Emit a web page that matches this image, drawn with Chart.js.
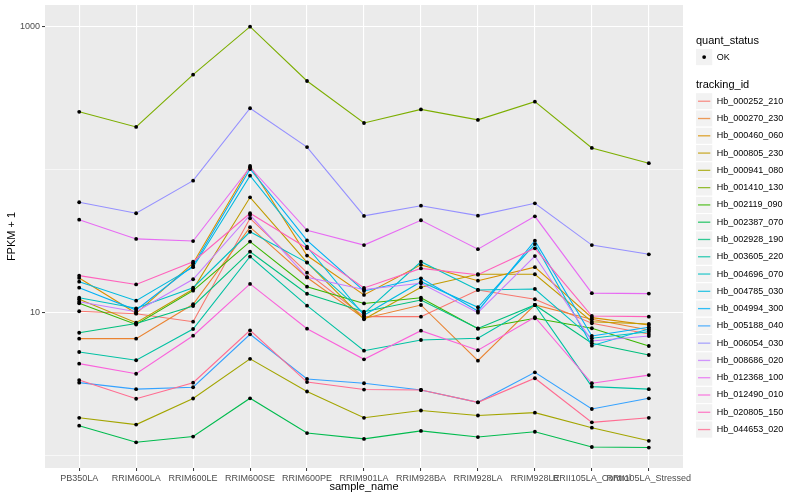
<!DOCTYPE html>
<html>
<head>
<meta charset="utf-8">
<script src="https://cdn.jsdelivr.net/npm/chart.js@4.4.1/dist/chart.umd.min.js"></script>
<style>
  html, body { margin: 0; padding: 0; background: #ffffff; }
  #wrap { width: 800px; height: 500px; }
</style>
</head>
<body>
<div id="wrap"><canvas id="c" width="800" height="500"></canvas></div>
<script>
// ---- Data ----
const categories = ['PB350LA','RRIM600LA','RRIM600LE','RRIM600SE','RRIM600PE','RRIM901LA','RRIM928BA','RRIM928LA','RRIM928LE','RRII105LA_Control','RRII105LA_Stressed'];

const trackingIds = ['Hb_000252_210','Hb_000270_230','Hb_000460_060','Hb_000805_230','Hb_000941_080','Hb_001410_130','Hb_002119_090','Hb_002387_070','Hb_002928_190','Hb_003605_220','Hb_004696_070','Hb_004785_030','Hb_004994_300','Hb_005188_040','Hb_006054_030','Hb_008686_020','Hb_012368_100','Hb_012490_010','Hb_020805_150','Hb_044653_020'];

const seriesColors = ['#F8766D','#EA8331','#D89000','#C09B00','#A3A500','#7CAE00','#39B600','#00BB4E','#00BF7D','#00C1A3','#00BFC4','#00BAE0','#00B0F6','#35A2FF','#9590FF','#C77CFF','#E76BF3','#FA62DB','#FF62BC','#FF6C91'];

// FPKM + 1 per sample (in category order)
const hb000252_210 = [10.23, 9.84, 8.65, 45.7, 19.05, 9.38, 9.38, 14.42, 12.41, 8.43, 7.10];
const hb000270_230 = [6.58, 6.58, 11.45, 39.6, 17.63, 9.11, 11.32, 4.62, 11.32, 8.99, 7.57];
const hb000460_060 = [17.49, 9.90, 22.2, 106.1, 25.1, 13.30, 21.6, 16.74, 20.8, 9.23, 8.20];
const hb000805_230 = [12.41, 8.51, 14.58, 64.1, 22.5, 8.99, 15.06, 18.56, 18.56, 8.65, 8.34];
const hb000941_080 = [1.84, 1.65, 2.51, 4.76, 2.81, 1.84, 2.07, 1.91, 2.00, 1.57, 1.27];
const hb001410_130 = [254, 199, 462, 1000, 417, 212, 264, 223, 299, 142, 111];
const hb002119_090 = [11.63, 8.27, 14.26, 31.4, 15.20, 11.60, 12.73, 7.73, 9.14, 7.78, 5.85];
const hb002387_070 = [1.62, 1.24, 1.36, 2.52, 1.44, 1.31, 1.49, 1.35, 1.47, 1.15, 1.14];
const hb002928_190 = [7.24, 8.40, 11.14, 26.7, 13.56, 10.16, 12.27, 7.75, 11.32, 6.11, 5.06];
const hb003605_220 = [5.31, 4.65, 7.69, 24.7, 11.19, 5.42, 6.44, 6.62, 11.32, 3.04, 2.92];
const hb004696_070 = [12.73, 10.73, 14.96, 36.8, 22.4, 9.90, 22.7, 14.42, 14.65, 6.62, 7.36];
const hb004785_030 = [16.47, 12.13, 20.8, 90.8, 28.9, 9.59, 16.47, 10.91, 30.2, 5.88, 7.69];
const hb004994_300 = [14.96, 10.44, 21.3, 101.1, 32.0, 14.18, 17.40, 10.28, 31.9, 6.87, 7.90];
const hb005188_040 = [3.24, 2.92, 3.01, 7.06, 3.44, 3.21, 2.88, 2.36, 3.83, 2.12, 2.52];
const hb006054_030 = [59.2, 49.6, 83.8, 269, 144, 47.5, 56.0, 47.7, 58.2, 29.7, 25.6];
const hb008686_020 = [11.94, 10.16, 17.13, 48.2, 17.69, 14.54, 16.05, 10.0, 24.9, 6.34, 6.87];
const hb012368_100 = [44.7, 32.8, 31.7, 104, 37.7, 29.7, 44.3, 27.8, 47.2, 13.7, 13.6];
const hb012490_010 = [4.40, 3.74, 6.90, 15.9, 7.73, 4.72, 7.48, 5.46, 9.29, 3.21, 3.66];
const hb020805_150 = [18.15, 15.75, 22.7, 49.6, 28.2, 14.88, 20.4, 18.44, 28.2, 9.48, 9.38];
const hb044653_020 = [3.38, 2.50, 3.24, 7.53, 3.27, 2.90, 2.88, 2.36, 3.48, 1.71, 1.84];

const seriesValues = [hb000252_210, hb000270_230, hb000460_060, hb000805_230, hb000941_080, hb001410_130, hb002119_090, hb002387_070, hb002928_190, hb003605_220, hb004696_070, hb004785_030, hb004994_300, hb005188_040, hb006054_030, hb008686_020, hb012368_100, hb012490_010, hb020805_150, hb044653_020];

const yMajorTicks = [10, 1000];
const yAllBreaks = [1, 10, 100, 1000];

// ---- Build datasets ----
const toPoints = vals => categories.map((c, i) => ({ x: i, y: vals[i] }));
const datasets = [];
seriesValues.forEach((vals, i) => {
  datasets.push({
    label: trackingIds[i],
    data: toPoints(vals),
    borderColor: seriesColors[i],
    backgroundColor: seriesColors[i],
    borderWidth: 1.1,
    pointRadius: 0,
    tension: 0,
    fill: false,
    order: 100 - i
  });
});
seriesValues.forEach((vals, i) => {
  datasets.push({
    label: trackingIds[i] + ' OK',
    data: toPoints(vals),
    showLine: false,
    pointRadius: 1.9,
    pointBorderWidth: 0,
    pointBackgroundColor: '#000000',
    pointBorderColor: '#000000',
    order: 0
  });
});

Chart.defaults.font.family = '"Liberation Sans", Arial, Helvetica, sans-serif';

const panelBg = {
  id: 'panelBg',
  beforeDraw(chart) {
    const { ctx, chartArea: a } = chart;
    ctx.save();
    ctx.fillStyle = '#EBEBEB';
    ctx.fillRect(a.left, a.top, a.right - a.left, a.bottom - a.top);
    ctx.restore();
  }
};

const ggLegend = {
  id: 'ggLegend',
  afterDraw(chart) {
    const ctx = chart.ctx;
    const x0 = 695.5, key = 17.28, textX = 716.7;
    ctx.save();
    ctx.fillStyle = '#000000';
    ctx.textAlign = 'left';
    ctx.textBaseline = 'alphabetic';
    ctx.font = '11px "Liberation Sans", Arial, sans-serif';
    ctx.fillText('quant_status', x0 + 0.5, 43.5);
    // OK key
    let top = 48.4;
    ctx.fillStyle = '#F2F2F2';
    ctx.fillRect(x0, top, key, key);
    ctx.strokeStyle = '#FFFFFF';
    ctx.lineWidth = 1.1;
    ctx.strokeRect(x0, top, key, key);
    ctx.fillStyle = '#000000';
    ctx.beginPath();
    ctx.arc(x0 + key / 2, top + key / 2, 1.9, 0, Math.PI * 2);
    ctx.fill();
    ctx.font = '9px "Liberation Sans", Arial, sans-serif';
    ctx.textBaseline = 'middle';
    ctx.fillText('OK', textX, top + key / 2);

    ctx.font = '11px "Liberation Sans", Arial, sans-serif';
    ctx.textBaseline = 'alphabetic';
    ctx.fillText('tracking_id', x0 + 0.5, 88);
    ctx.font = '9px "Liberation Sans", Arial, sans-serif';
    ctx.textBaseline = 'middle';
    trackingIds.forEach((id, i) => {
      const t = 92.6 + i * key;
      ctx.fillStyle = '#F2F2F2';
      ctx.fillRect(x0, t, key, key);
      ctx.strokeStyle = '#FFFFFF';
      ctx.lineWidth = 1.1;
      ctx.strokeRect(x0, t, key, key);
      ctx.globalAlpha = 0.8;
      ctx.strokeStyle = seriesColors[i];
      ctx.lineWidth = 1.3;
      ctx.beginPath();
      ctx.moveTo(x0 + 2.5, t + key / 2);
      ctx.lineTo(x0 + key - 2.5, t + key / 2);
      ctx.stroke();
      ctx.globalAlpha = 1;
      ctx.fillStyle = '#000000';
      ctx.fillText(id, textX, t + key / 2);
    });
    ctx.restore();
  }
};

new Chart(document.getElementById('c'), {
  type: 'line',
  data: { datasets },
  plugins: [panelBg, ggLegend],
  options: {
    responsive: false,
    animation: false,
    devicePixelRatio: 1,
    layout: { padding: { left: 0, right: 117, top: 5, bottom: 0 } },
    plugins: { legend: { display: false }, tooltip: { enabled: false } },
    scales: {
      x: {
        type: 'linear',
        min: -0.6,
        max: categories.length - 1 + 0.6,
        afterBuildTicks: s => { s.ticks = categories.map((c, i) => ({ value: i })); },
        afterFit: s => { s.height = 32; s.paddingLeft = 0; s.paddingRight = 0; },
        border: { display: false },
        grid: { color: '#FFFFFF', lineWidth: 1.1, drawTicks: true, tickLength: 3, tickColor: '#333333', tickWidth: 1 },
        ticks: {
          autoSkip: false, maxRotation: 0, minRotation: 0, padding: 2,
          color: '#4D4D4D', font: { size: 9 },
          callback: v => categories[v]
        },
        title: { display: true, text: 'sample_name', color: '#000000', font: { size: 11 }, padding: { top: 0, bottom: 6 } }
      },
      y: {
        type: 'logarithmic',
        min: 0.82,
        max: 1418,
        afterBuildTicks: s => { s.ticks = yAllBreaks.map(v => ({ value: v })); },
        afterFit: s => { s.width = 45; s.paddingTop = 0; s.paddingBottom = 0; },
        border: { display: false },
        grid: {
          color: '#FFFFFF',
          lineWidth: ctx => (yMajorTicks.includes(ctx.tick && ctx.tick.value) ? 1.1 : 0.6),
          drawTicks: true, tickLength: 3,
          tickColor: ctx => (yMajorTicks.includes(ctx.tick && ctx.tick.value) ? '#333333' : 'rgba(0,0,0,0)'),
          tickWidth: 1
        },
        ticks: {
          autoSkip: false, padding: 2, color: '#4D4D4D', font: { size: 9 },
          callback: v => (yMajorTicks.includes(v) ? String(v) : '')
        },
        title: { display: true, text: 'FPKM + 1', color: '#000000', font: { size: 11 }, padding: { top: 5.4, bottom: 0 } }
      }
    }
  }
});
</script>
</body>
</html>
